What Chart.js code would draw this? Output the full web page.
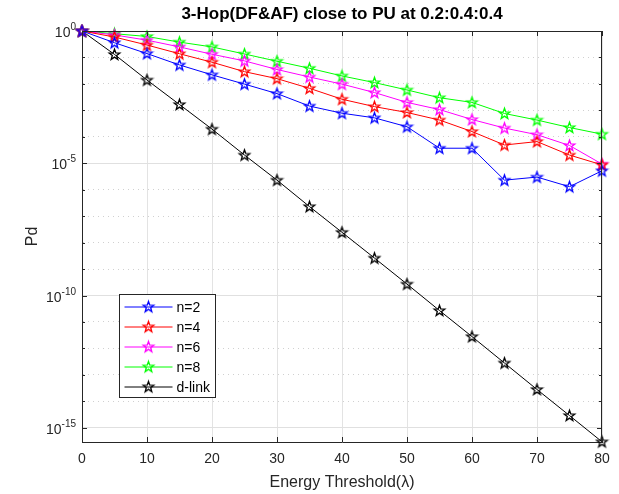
<!DOCTYPE html>
<html>
<head>
<meta charset="utf-8">
<script src="https://cdn.jsdelivr.net/npm/chart.js@4.4.1/dist/chart.umd.min.js"></script>
<style>
  html, body { margin: 0; padding: 0; background: #fff; }
  #wrap { width: 619px; height: 494px; }
</style>
</head>
<body>
<div id="wrap"><canvas id="pdChart" width="619" height="494"></canvas></div>
<script>
// values (x = energy threshold, y = Pd)
const thresholds = [0, 5, 10, 15, 20, 25, 30, 35, 40, 45, 50, 55, 60, 65, 70, 75, 80];
const pdN2 = [1, 3.6e-1, 1.4e-1, 5.2e-2, 2.2e-2, 9.8e-3, 4.3e-3, 1.45e-3, 7.8e-4, 5.2e-4, 2.4e-4, 3.7e-5, 3.7e-5, 2.3e-6, 3.0e-6, 1.3e-6, 5.2e-6];
const pdN4 = [1, 5.9e-1, 2.95e-1, 1.38e-1, 6.6e-2, 2.9e-2, 1.58e-2, 6.8e-3, 2.63e-3, 1.38e-3, 8.3e-4, 4.3e-4, 1.58e-4, 4.9e-5, 6.6e-5, 2.04e-5, 8.7e-6];
const pdN6 = [1, 7.1e-1, 4.5e-1, 2.5e-1, 1.32e-1, 7.4e-2, 3.5e-2, 1.82e-2, 9.8e-3, 4.7e-3, 2.0e-3, 1.07e-3, 4.5e-4, 2.14e-4, 1.2e-4, 4.7e-5, 9.3e-6];
const pdN8 = [1, 7.9e-1, 6.2e-1, 3.8e-1, 2.5e-1, 1.35e-1, 7.2e-2, 3.9e-2, 2.0e-2, 1.12e-2, 5.9e-3, 3.0e-3, 2.0e-3, 7.6e-4, 4.3e-4, 2.24e-4, 1.26e-4];
const pdDirect = [1, 1.3e-1, 1.4e-2, 1.66e-3, 1.95e-4, 2.04e-5, 2.3e-6, 2.3e-7, 2.45e-8, 2.6e-9, 2.7e-10, 2.7e-11, 2.8e-12, 2.8e-13, 2.8e-14, 2.9e-15, 2.95e-16];
const seriesLabels = ['n=2', 'n=4', 'n=6', 'n=8', 'd-link'];
const seriesColors = ['#0000ff', '#ff0000', '#ff00ff', '#00ff00', '#000000'];
const xTicks = [0, 10, 20, 30, 40, 50, 60, 70, 80];
const yDecades = [-15, -14, -13, -12, -11, -10, -9, -8, -7, -6, -5, -4, -3, -2, -1, 0];
const yLabelDecades = [0, -5, -10, -15];

const FONT = 'Liberation Sans, Arial, Helvetica, sans-serif';
const AXIS_COLOR = '#262626';

// matlab style pentagram marker
function makeStar(color) {
    const c = document.createElement('canvas');
    c.width = 15; c.height = 15;
    const g = c.getContext('2d');
    const R = 5.6, r = 2.3, cx = 7.5, cy = 7.8;
    g.beginPath();
    for (let i = 0; i < 10; i++) {
        const rad = i % 2 === 0 ? R : r;
        const a = -Math.PI / 2 + i * Math.PI / 5;
        const px = cx + rad * Math.cos(a), py = cy + rad * Math.sin(a);
        if (i === 0) g.moveTo(px, py); else g.lineTo(px, py);
    }
    g.closePath();
    g.strokeStyle = color;
    g.lineWidth = 1.3;
    g.stroke();
    return c;
}
const stars = seriesColors.map(makeStar);

function toPoints(vals) {
    return thresholds.map((x, i) => ({x: x, y: vals[i]}));
}

const allSeries = [pdN2, pdN4, pdN6, pdN8, pdDirect];
const datasets = allSeries.map((vals, i) => ({
    label: seriesLabels[i],
    data: toPoints(vals),
    borderColor: seriesColors[i],
    backgroundColor: seriesColors[i],
    borderWidth: 1,
    pointStyle: stars[i],
    pointRadius: 6,
    tension: 0,
    clip: false
}));

// box, inward ticks, 10^n labels and the legend inside the axes
const frameAndLegend = {
    id: 'frameAndLegend',
    afterDraw(chart) {
        const {ctx, chartArea: a, scales} = chart;
        ctx.save();
        ctx.strokeStyle = AXIS_COLOR;
        ctx.lineWidth = 1;
        ctx.beginPath();
        ctx.moveTo(a.left, a.top + 0.5); ctx.lineTo(a.right, a.top + 0.5);
        ctx.moveTo(a.right - 0.5, a.top); ctx.lineTo(a.right - 0.5, a.bottom);
        xTicks.forEach(v => {
            const px = Math.round(scales.x.getPixelForValue(v)) + 0.5;
            ctx.moveTo(px, a.bottom); ctx.lineTo(px, a.bottom - 5);
            ctx.moveTo(px, a.top); ctx.lineTo(px, a.top + 5);
        });
        yDecades.forEach(e => {
            const py = Math.round(scales.y.getPixelForValue(Math.pow(10, e))) + 0.5;
            const len = e % 5 === 0 ? 5 : 3;
            ctx.moveTo(a.left, py); ctx.lineTo(a.left + len, py);
            ctx.moveTo(a.right, py); ctx.lineTo(a.right - len, py);
        });
        ctx.stroke();

        // y tick labels as 10 with a raised exponent
        ctx.fillStyle = '#262626';
        ctx.textBaseline = 'alphabetic';
        ctx.textAlign = 'left';
        yLabelDecades.forEach(e => {
            const py = scales.y.getPixelForValue(Math.pow(10, e));
            const exp = e === 0 ? '0' : '-' + Math.abs(e);
            ctx.font = '10px ' + FONT;
            const expW = ctx.measureText(exp).width;
            ctx.font = '14px ' + FONT;
            const baseW = ctx.measureText('10').width;
            const right = a.left - 6;
            ctx.fillText('10', right - expW - baseW, py + 6);
            ctx.font = '10px ' + FONT;
            ctx.fillText(exp, right - expW, py - 1);
        });

        // legend
        const lx = a.left + 37.5, ly = a.top + 263.5, lw = 96, lh = 103;
        ctx.fillStyle = '#fff';
        ctx.fillRect(lx, ly, lw, lh);
        ctx.strokeStyle = '#262626';
        ctx.strokeRect(lx, ly, lw, lh);
        ctx.font = '14px ' + FONT;
        ctx.textBaseline = 'middle';
        chart.data.datasets.forEach((ds, i) => {
            const rowY = ly + 12.5 + i * 20;
            ctx.strokeStyle = ds.borderColor;
            ctx.beginPath();
            ctx.moveTo(lx + 5, rowY); ctx.lineTo(lx + 53, rowY);
            ctx.stroke();
            ctx.drawImage(ds.pointStyle, lx + 29 - 7.5, rowY - 7.8);
            ctx.fillStyle = '#000';
            ctx.fillText(ds.label, lx + 57, rowY + 1);
        });
        ctx.restore();
    }
};

const ctx = document.getElementById('pdChart').getContext('2d');
new Chart(ctx, {
    type: 'line',
    data: {datasets: datasets},
    plugins: [frameAndLegend],
    options: {
        responsive: false,
        animation: false,
        layout: {padding: {left: 0, right: 17, top: 0, bottom: 0}},
        plugins: {
            legend: {display: false},
            tooltip: {enabled: false},
            title: {
                display: true,
                fullSize: false,
                text: '3-Hop(DF&AF) close to PU at 0.2:0.4:0.4',
                color: '#000',
                font: {family: FONT, size: 17, weight: 'bold'},
                padding: {top: 4, bottom: 6.6}
            }
        },
        scales: {
            x: {
                type: 'linear',
                min: 0,
                max: 80,
                afterBuildTicks: s => { s.ticks = xTicks.map(v => ({value: v})); },
                afterFit: s => { s.height = 52; },
                ticks: {color: '#262626', font: {family: FONT, size: 14}, padding: 9, maxRotation: 0},
                grid: {color: '#e3e3e3', drawTicks: false},
                border: {color: AXIS_COLOR, width: 1},
                title: {
                    display: true,
                    text: 'Energy Threshold(\u03BB)',
                    color: '#262626',
                    font: {family: FONT, size: 16},
                    padding: {top: 0, bottom: 2}
                }
            },
            y: {
                type: 'logarithmic',
                min: 2.9e-16,
                max: 1,
                afterBuildTicks: s => { s.ticks = yDecades.map(e => ({value: Math.pow(10, e)})); },
                afterFit: s => { s.width = 82; },
                ticks: {display: false},
                grid: {
                    drawTicks: false,
                    color: c => {
                        const e = Math.round(Math.log10(c.tick.value));
                        return e % 5 === 0 ? '#e0e0e0' : '#d0d0d0';
                    }
                },
                border: {
                    color: AXIS_COLOR,
                    width: 1,
                    dash: c => {
                        if (!c.tick) return [];
                        const e = Math.round(Math.log10(c.tick.value));
                        return e % 5 === 0 ? [] : [1, 4];
                    }
                },
                title: {
                    display: true,
                    text: 'Pd',
                    color: '#262626',
                    font: {family: FONT, size: 16},
                    padding: {top: 23, bottom: 0}
                }
            }
        }
    }
});
</script>
</body>
</html>
